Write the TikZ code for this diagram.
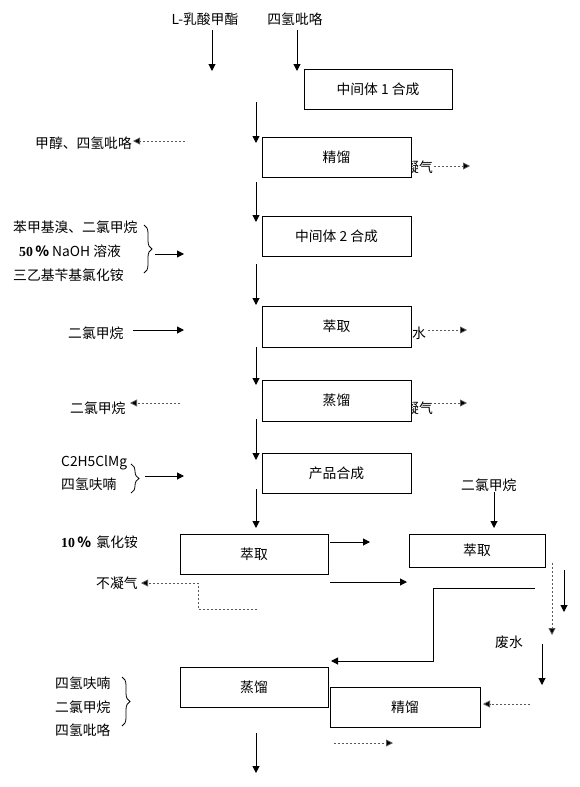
\documentclass[tikz,border=0pt]{standalone}
\usepackage{fontspec}
\setmainfont{Noto Sans CJK SC}
\newfontfamily\numfont{Liberation Serif}
\usetikzlibrary{arrows.meta,decorations.pathreplacing}
\begin{document}
\begin{tikzpicture}[x=1pt,y=-1pt,
  every node/.style={font=\fontsize{13.8}{16}\selectfont, inner sep=0pt},
  box/.style={draw, fill=white, line width=1pt, inner sep=0pt},
  lab/.style={anchor=west},
  flow/.style={line width=1pt, -{Triangle[length=7pt,width=7pt]}},
  dflow/.style={line width=0.8pt, draw=black!65, dash pattern=on 2pt off 2pt, -{Triangle[length=7pt,width=7pt,fill=black]}},
  brc/.style={decorate, decoration={brace, amplitude=8pt}, line width=0.8pt}
]
\useasboundingbox (0,0) rectangle (579,787);

% hidden-behind-box labels (drawn first)
\node[anchor=east] (ng1) at (433,167) {不凝气};
\node[anchor=east] (ng2) at (433,408) {不凝气};

% top inputs
\node (lmeth) at (205,19) {L-乳酸甲酯};
\node (thp) at (295,19) {四氢吡咯};
\coordinate (a1s) at (212,30); \coordinate (a1e) at (212,71);
\coordinate (a2s) at (297,30); \coordinate (a2e) at (297,71);
\draw[flow] (a1s) -- (a1e);
\draw[flow] (a2s) -- (a2e);

% boxes of main column
\node[box, minimum width=148pt, minimum height=40pt] (b1) at (378,89) {中间体 1 合成};
\node[box, minimum width=149pt, minimum height=40pt] (b2) at (336.5,157) {精馏};
\node[box, minimum width=149pt, minimum height=40pt] (b3) at (336.5,236) {中间体 2 合成};
\node[box, minimum width=149pt, minimum height=41pt] (b4) at (336.5,326.5) {萃取};
\node[box, minimum width=149pt, minimum height=41pt] (b5) at (336.5,400.5) {蒸馏};
\node[box, minimum width=149pt, minimum height=40pt] (b6) at (336.5,473) {产品合成};
\node[box, minimum width=148pt, minimum height=40pt] (b7) at (254,554) {萃取};
\node[box, minimum width=136pt, minimum height=33pt] (b8) at (477,550.5) {萃取};
\node[box, minimum width=148pt, minimum height=40pt] (b9) at (254,687) {蒸馏};
\node[box, minimum width=150pt, minimum height=40pt] (b10) at (405,707) {精馏};

% main vertical arrows
\foreach \n/\ys/\ye in {m1/102/143, m2/182/222, m3/264/305, m4/347/385, m5/419/460, m6/489/528, m7/733/773}{
  \coordinate (\n s) at (256,\ys); \coordinate (\n e) at (256,\ye);
  \draw[flow] (\n s) -- (\n e);
}

% 精馏 side streams
\node[lab] (meoh) at (35,143) {甲醇、四氢吡咯};
\coordinate (d1s) at (185,141); \coordinate (d1e) at (133,141);
\draw[dflow] (d1s) -- (d1e);
\coordinate (d2s) at (434,166); \coordinate (d2e) at (470,166);
\draw[dflow] (d2s) -- (d2e);

% 中间体2 inputs
\node[lab] (in21) at (13,227) {苯甲基溴、二氯甲烷};
\node[lab] (in22) at (19,251) {{\numfont\bfseries 50}\,{\bfseries ％} NaOH 溶液};
\node[lab] (in23) at (13,275) {三乙基苄基氯化铵};
\coordinate (br1a) at (144,225); \coordinate (br1b) at (144,273);
\draw[brc] (br1a) -- (br1b);
\coordinate (i2s) at (155,254); \coordinate (i2e) at (184,254);
\draw[flow] (i2s) -- (i2e);

% 萃取 1
\node[lab] (dcm1) at (68,333) {二氯甲烷};
\coordinate (i3s) at (133,330); \coordinate (i3e) at (184,330);
\draw[flow] (i3s) -- (i3e);
\node[lab] (water) at (412,333) {水};
\coordinate (d3s) at (428,330); \coordinate (d3e) at (467,330);
\draw[dflow] (d3s) -- (d3e);

% 蒸馏 1
\node[lab] (dcm2) at (70,408) {二氯甲烷};
\coordinate (d4s) at (180,403); \coordinate (d4e) at (130,403);
\draw[dflow] (d4s) -- (d4e);
\coordinate (d5s) at (434,403); \coordinate (d5e) at (467,403);
\draw[dflow] (d5s) -- (d5e);

% 产品合成 inputs
\node[lab] (grig) at (61,463) {C2H5ClMg};
\node[lab] (thf1) at (61,484) {四氢呋喃};
\coordinate (br2a) at (131,464); \coordinate (br2b) at (131,493);
\draw[brc] (br2a) -- (br2b);
\coordinate (i4s) at (145,476); \coordinate (i4e) at (184,476);
\draw[flow] (i4s) -- (i4e);

% right 二氯甲烷
\node[lab] (dcm3) at (461,485) {二氯甲烷};
\coordinate (i5s) at (494,492); \coordinate (i5e) at (494,528);
\draw[flow] (i5s) -- (i5e);

% 萃取 2
\node[lab] (nh4) at (61,542) {{\numfont\bfseries 10}\,{\bfseries ％}\, 氯化铵};
\node[lab] (ng3) at (96,583) {不凝气};
\coordinate (d6s) at (257,609); \coordinate (d6a) at (198,609); \coordinate (d6b) at (198,583); \coordinate (d6e) at (141,583);
\draw[dflow] (d6s) -- (d6a) -- (d6b) -- (d6e);
\coordinate (r1s) at (330,542); \coordinate (r1e) at (370,542);
\draw[flow] (r1s) -- (r1e);
\coordinate (r2s) at (330,582); \coordinate (r2e) at (407,582);
\draw[flow] (r2s) -- (r2e);

% right column
\coordinate (d7s) at (552,563); \coordinate (d7e) at (552,635);
\draw[dflow] (d7s) -- (d7e);
\coordinate (r3s) at (564,570); \coordinate (r3e) at (564,612);
\draw[flow] (r3s) -- (r3e);
\coordinate (p1) at (535,588); \coordinate (p2) at (433,588); \coordinate (p3) at (433,661); \coordinate (p4) at (331,661);
\draw[flow] (p1) -- (p2) -- (p3) -- (p4);
\node[lab] (waste) at (495,642) {废水};
\coordinate (r4s) at (542,644); \coordinate (r4e) at (542,685);
\draw[flow] (r4s) -- (r4e);
\coordinate (d8s) at (530,704); \coordinate (d8e) at (483,704);
\draw[dflow] (d8s) -- (d8e);
\coordinate (d9s) at (334,743); \coordinate (d9e) at (393,743);
\draw[dflow] (d9s) -- (d9e);

% bottom-left list
\node[lab] (thf2) at (55,683) {四氢呋喃};
\node[lab] (dcm4) at (55,707) {二氯甲烷};
\node[lab] (thp2) at (55,730) {四氢吡咯};
\coordinate (br3a) at (122,677); \coordinate (br3b) at (122,726);
\draw[brc] (br3a) -- (br3b);
\end{tikzpicture}
\end{document}
